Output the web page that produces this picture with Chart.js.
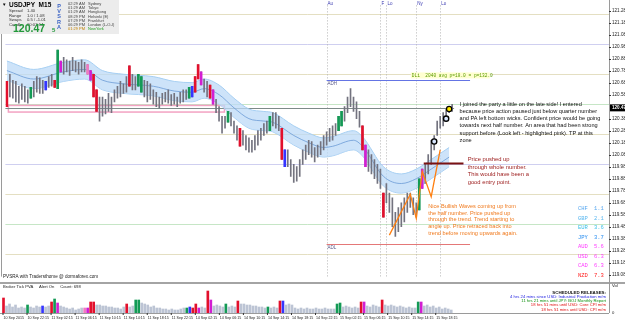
<!DOCTYPE html>
<html>
<head>
<meta charset="utf-8">
<script src="https://cdn.jsdelivr.net/npm/chart.js@4.4.0/dist/chart.umd.min.js"></script>
<style>
html, body { margin: 0; padding: 0; background: #fff; }
#wrap { position: relative; width: 625px; height: 320px; overflow: hidden; }
#price { position: absolute; left: 0; top: 0; }
#vol { position: absolute; left: 0; top: 282px; }
</style>
</head>
<body>
<div id="wrap">
	<canvas id="price" width="625" height="282"></canvas>
	<canvas id="vol" width="625" height="38"></canvas>
</div>
<script>
"use strict";

// ---- data ----
var SLOTS = 202;

var highs = [120.69,120.75,120.70,120.69,120.65,120.67,120.65,120.62,120.64,120.69,
	120.73,120.72,120.70,120.69,120.73,120.75,120.70,120.95,120.86,120.89,
	120.87,120.86,120.89,120.86,120.85,120.87,120.85,120.83,120.78,120.75,
	120.62,120.56,120.56,120.54,120.59,120.56,120.62,120.65,120.69,120.67,
	120.73,120.82,120.75,120.73,120.75,120.73,120.70,120.69,120.67,120.62,
	120.60,120.56,120.59,120.60,120.62,120.58,120.59,120.56,120.60,120.62,
	120.62,120.64,120.65,120.73,120.83,120.77,120.71,120.69,120.66,120.62,
	120.54,120.48,120.40,120.40,120.44,120.43,120.36,120.32,120.30,120.28,
	120.24,120.22,120.20,120.24,120.28,120.30,120.34,120.36,120.40,120.43,
	120.43,120.40,120.30,120.12,120.12,120.04,120.00,119.98,120.04,120.12,
	120.16,120.20,120.19,120.14,120.16,120.19,120.24,120.27,120.30,120.32,
	120.34,120.40,120.44,120.48,120.56,120.63,120.56,120.52,120.44,120.32,
	120.16,120.12,120.08,120.04,120.00,119.96,119.76,119.84,119.76,119.72,
	119.60,119.64,119.68,119.72,119.76,119.76,119.72,119.68,119.88,119.96,
	120.00,120.08,120.20,120.24,120.36,120.40,120.43,120.46,120.48,120.50];

var lows = [120.48,120.56,120.55,120.52,120.51,120.54,120.52,120.51,120.55,120.56,
	120.60,120.59,120.59,120.62,120.64,120.65,120.64,120.63,120.77,120.75,
	120.77,120.74,120.78,120.77,120.75,120.77,120.77,120.75,120.70,120.56,
	120.44,120.36,120.40,120.42,120.44,120.43,120.52,120.55,120.56,120.59,
	120.60,120.65,120.62,120.62,120.65,120.60,120.56,120.52,120.54,120.50,
	120.48,120.47,120.50,120.52,120.51,120.49,120.50,120.48,120.51,120.52,
	120.54,120.55,120.56,120.60,120.71,120.66,120.60,120.56,120.55,120.50,
	120.43,120.36,120.26,120.30,120.35,120.32,120.26,120.20,120.15,120.16,
	120.12,120.10,120.10,120.12,120.16,120.20,120.24,120.26,120.28,120.32,
	120.30,120.28,120.04,119.98,119.98,119.90,119.85,119.86,119.90,120.00,
	120.04,120.08,120.06,120.02,120.06,120.08,120.12,120.16,120.19,120.20,
	120.24,120.28,120.32,120.36,120.43,120.48,120.44,120.38,120.31,120.12,
	119.98,119.94,119.92,119.88,119.84,119.80,119.56,119.68,119.60,119.48,
	119.40,119.44,119.48,119.52,119.60,119.64,119.58,119.56,119.62,119.80,
	119.84,119.92,120.00,120.12,120.24,120.30,120.32,120.38,120.43,120.44];

var volumes = [750,350,450,300,400,250,300,250,400,300,
	250,350,300,350,300,350,550,700,500,350,
	300,250,200,250,150,200,250,250,250,550,
	550,400,400,350,350,300,300,250,250,200,
	300,450,300,350,650,650,500,450,400,300,
	350,250,250,200,200,150,200,150,150,200,
	250,250,300,250,450,250,300,250,1100,650,
	350,400,350,300,450,300,350,300,600,450,
	450,400,400,350,350,300,300,250,300,250,
	300,250,600,600,400,450,400,250,200,250,
	200,250,200,200,250,200,200,250,200,200,
	200,450,500,300,350,300,250,300,250,550,
	550,350,300,400,350,300,650,400,350,400,
	350,300,350,300,250,300,250,250,550,550,
	350,400,300,350,250,300,200,250,200,150];

var redBars = [0,16,29,30,41,63,64,68,78,92,119,126];
var greenBars = [8,17,44,45,61,74,88,111,112,138];
var blueBars = [13,62,93];
var magentaBars = [18,28,65,69,120,139];
var pinkBars = [27];

var emaIdx = [0,9,19,26,32,39,49,56,62,66,71,76,81,86,89,96,101,106,109,116,119,126,132,137,142,148];
var emaMid = [120.78,120.71,120.77,120.79,120.70,120.67,120.65,120.61,120.60,120.63,120.58,120.47,120.38,
	120.36,120.35,120.24,120.18,120.14,120.15,120.20,120.15,119.90,119.84,119.88,119.96,120.06];
var emaUpper = [120.86,120.79,120.85,120.87,120.78,120.75,120.73,120.69,120.68,120.71,120.66,120.55,120.46,
	120.44,120.43,120.32,120.26,120.22,120.23,120.28,120.23,119.98,119.92,119.96,120.04,120.14];
var emaLower = [120.70,120.63,120.69,120.71,120.62,120.59,120.57,120.53,120.52,120.55,120.50,120.39,120.30,
	120.28,120.27,120.16,120.10,120.06,120.07,120.12,120.07,119.82,119.76,119.80,119.88,119.98];

var waveIdx = [128,135,137,139,142,145];
var wavePrice = [119.41,119.75,119.55,119.94,119.73,120.12];
var entryIdx = [143,147];
var entryPrice = [120.19,120.38];
var lastIdx = [148];
var lastPrice = [120.46];

var wholeLevels = [121.00, 120.00];
var halfLevels = [120.50, 119.50];
var quarterLevels = [121.25, 120.75, 120.25, 119.75, 119.25];
var bidPrice = 120.47;
var zoneIdx = [0.5, 72.8];
var zonePrice = [120.435, 120.49];
var adIdx = [107, 155];
var adHigh = 120.70;
var adLow = 119.34;
var breakIdx = [139.5, 152.8];
var breakPrice = 120.01;

var sessionIdx = [107, 125, 127, 137, 145];
var sessionNames = ["Au", "F", "Lo", "Ny", "Lo"];

var priceTicks = [119.08,119.18,119.28,119.38,119.48,119.58,119.68,119.78,119.88,119.98,
	120.08,120.18,120.28,120.38,120.48,120.58,120.68,120.78,120.88,120.98,121.08,121.18,121.28];
var timeLabels = ["10 Sep 2015","10 Sep 22:15","11 Sep 02:15","11 Sep 06:15","11 Sep 10:15",
	"11 Sep 14:15","11 Sep 18:15","11 Sep 22:15","14 Sep 02:15","14 Sep 06:15","14 Sep 10:15",
	"14 Sep 14:15","14 Sep 18:15","14 Sep 22:15","15 Sep 02:15","15 Sep 06:15","15 Sep 10:15",
	"15 Sep 14:15","15 Sep 18:15"];
var LABEL_STEP = 8;

var currencies = ["CHF","GBP","EUR","JPY","AUD","USD","CAD","NZD"];
var strengths = [1.1, 2.1, 3.6, 3.7, 5.6, 6.3, 6.3, 7.3];
var strengthColors = ["#58a8f0","#5cb8f0","#3cc0e8","#2a8ef0","#ff3cff","#ff3cff","#ff3cff","#ff2020"];

var noteMain = ["I joined the party a little on the late side! I entered",
	"because price action paused just below quarter number",
	"and PA left bottom wicks. Confident price would be going",
	"towards next half number. An area that had been strong",
	"support before (Look left - highlighted pink). TP at this",
	"zone"];
var noteRed = ["Price pushed up", "through whole number.", "This would have been a", "good entry point."];
var noteOrange = ["Nice Bullish Waves coming up from", "the half number. Price pushed up",
	"through the trend. Trend starting to", "angle up. Price retraced back into",
	"trend before moving upwards again."];

var releases = ["4 hrs 24 mins since USD: Industrial Production m/m",
	"11 hrs 21 mins until JPY: BOJ Monthly Report",
	"18 hrs 51 mins until USD: Core CPI m/m",
	"18 hrs 51 mins until USD: CPI m/m"];
var releaseColors = ["#2020e0", "#109010", "#e01010", "#e01010"];

// ---- helpers ----
var FONT = "'Liberation Sans', Arial, sans-serif";
var MONO = "'Liberation Mono', 'DejaVu Sans Mono', monospace";

function barColor(i) {
	if (redBars.indexOf(i) >= 0) return "#e2102c";
	if (greenBars.indexOf(i) >= 0) return "#139a55";
	if (blueBars.indexOf(i) >= 0) return "#3535ff";
	if (magentaBars.indexOf(i) >= 0) return "#d21ed2";
	if (pinkBars.indexOf(i) >= 0) return "#f07ac0";
	return null;
}

var slotLabels = [];
for (var s = 0; s < SLOTS; s++) slotLabels.push(s);

function pts(idx, vals) {
	return idx.map(function (v, k) { return { x: v, y: vals[k] }; });
}

function txt(ctx, str, x, y, font, color, align) {
	ctx.font = font;
	ctx.fillStyle = color;
	ctx.textAlign = align || "left";
	ctx.textBaseline = "middle";
	ctx.fillText(str, x, y);
}

// ---- price panel overlay ----
var priceOverlay = {
	id: "priceOverlay",
	beforeDatasetsDraw: function (chart) {
		var ctx = chart.ctx, a = chart.chartArea, xs = chart.scales.x, ys = chart.scales.y;
		ctx.save();
		function hline(v, color, w, x0, x1) {
			var py = Math.round(ys.getPixelForValue(v)) + 0.5;
			ctx.strokeStyle = color;
			ctx.lineWidth = w;
			ctx.beginPath(); ctx.moveTo(x0, py); ctx.lineTo(x1, py); ctx.stroke();
		}
		quarterLevels.forEach(function (v) { hline(v, "#e4dfc2", 1, a.left, a.right); });
		halfLevels.forEach(function (v) { hline(v, "#c6e6c6", 1, a.left, a.right); });
		wholeLevels.forEach(function (v) { hline(v, "#cfcff0", 1, a.left, a.right); });

		// session separators
		ctx.setLineDash([1, 2]);
		sessionIdx.forEach(function (i) {
			var px = Math.round(xs.getPixelForValue(i)) + 0.5;
			ctx.strokeStyle = "#b4b4b4"; ctx.lineWidth = 1;
			ctx.beginPath(); ctx.moveTo(px, a.top); ctx.lineTo(px, a.bottom); ctx.stroke();
		});
		ctx.setLineDash([]);

		// highlighted support zone
		var zx0 = xs.getPixelForValue(zoneIdx[0]), zx1 = xs.getPixelForValue(zoneIdx[1]);
		var zy0 = ys.getPixelForValue(zonePrice[1]), zy1 = ys.getPixelForValue(zonePrice[0]);
		ctx.strokeStyle = "#f3a2c2"; ctx.lineWidth = 1.5;
		ctx.strokeRect(zx0, zy0, zx1 - zx0, zy1 - zy0);

		// bid line and daily high / low
		hline(bidPrice, "#7d8a88", 1, a.left, xs.getPixelForValue(149) + 2);
		var ax0 = xs.getPixelForValue(adIdx[0]), ax1 = xs.getPixelForValue(adIdx[1]);
		hline(adHigh, "#6474e4", 1, ax0, ax1);
		hline(adLow, "#e47878", 1, ax0, ax1);
		ctx.restore();
	},
	afterDatasetsDraw: function (chart) {
		var ctx = chart.ctx, a = chart.chartArea, xs = chart.scales.x, ys = chart.scales.y;
		ctx.save();

		// whole-number break marker
		var by = Math.round(ys.getPixelForValue(breakPrice)) + 0.5;
		ctx.strokeStyle = "#7a1212"; ctx.lineWidth = 2;
		ctx.beginPath(); ctx.moveTo(xs.getPixelForValue(breakIdx[0]), by); ctx.lineTo(xs.getPixelForValue(breakIdx[1]), by); ctx.stroke();

		// ADH / ADL tags and ADR text
		var ax0 = xs.getPixelForValue(adIdx[0]);
		txt(ctx, "ADH", ax0 + 1, ys.getPixelForValue(adHigh) + 4, "4.5px " + FONT, "#5a5a8a");
		txt(ctx, "ADL", ax0 + 1, ys.getPixelForValue(adLow) + 4, "4.5px " + FONT, "#5a5a8a");
		var rx = xs.getPixelForValue(135.5), ry = ys.getPixelForValue(120.74);
		ctx.fillStyle = "#ffffd0";
		ctx.fillRect(rx - 1, ry - 3, 79, 6);
		txt(ctx, "DLi  2040 avg p=18.0 = p=132.0", rx, ry, "4.5px " + MONO, "#5a9a00");

		// notes
		var mx = xs.getPixelForValue(151.5), my = ys.getPixelForValue(120.50);
		noteMain.forEach(function (l, k) { txt(ctx, l, mx, my + k * 7.2, "5.6px " + FONT, "#111"); });
		var rnx = xs.getPixelForValue(154.2), rny = ys.getPixelForValue(120.04);
		noteRed.forEach(function (l, k) { txt(ctx, l, rnx, rny + k * 7.6, "5.8px " + FONT, "#9a1818"); });
		var onx = xs.getPixelForValue(141), ony = ys.getPixelForValue(119.65);
		noteOrange.forEach(function (l, k) { txt(ctx, l, onx, ony + k * 6.8, "5.6px " + FONT, "#f07a1e"); });

		// currency strength table
		currencies.forEach(function (c, k) {
			var yy = 209 + k * 9.5;
			txt(ctx, c, 578, yy, "5.5px " + MONO, strengthColors[k]);
			txt(ctx, strengths[k].toFixed(1), 594, yy, "5.5px " + MONO, strengthColors[k]);
		});

		// session names
		sessionIdx.forEach(function (i, k) {
			txt(ctx, sessionNames[k], xs.getPixelForValue(i) + 1, 4, "4.5px " + FONT, "#3a3ab0");
		});

		// footer
		txt(ctx, "PVSRA with Tradersthome @ dormaforex.com", 3, 277, "4.6px " + FONT, "#222");

		// right price axis
		ctx.strokeStyle = "#9a9a9a"; ctx.lineWidth = 1;
		ctx.beginPath(); ctx.moveTo(a.right + 0.5, 0); ctx.lineTo(a.right + 0.5, chart.height); ctx.stroke();
		ctx.beginPath(); ctx.moveTo(1.5, 0); ctx.lineTo(1.5, a.bottom); ctx.stroke();
		var bidY = ys.getPixelForValue(bidPrice);
		priceTicks.forEach(function (v) {
			var py = ys.getPixelForValue(v);
			if (Math.abs(py - bidY) < 5) return;
			ctx.strokeStyle = "#333";
			ctx.beginPath(); ctx.moveTo(a.right, Math.round(py) + 0.5); ctx.lineTo(a.right + 2, Math.round(py) + 0.5); ctx.stroke();
			txt(ctx, v.toFixed(3), a.right + 3, py, "4.6px " + FONT, "#222");
		});
		ctx.fillStyle = "#000";
		ctx.fillRect(a.right + 1, bidY - 3.5, 16, 7);
		txt(ctx, bidPrice.toFixed(3), a.right + 3, bidY, "bold 4.6px " + FONT, "#fff");

		// info panel
		ctx.fillStyle = "#ececec";
		ctx.fillRect(0, 0, 119, 34);
		txt(ctx, "\u25BC", 2, 5, "4.5px " + FONT, "#000");
		txt(ctx, "USDJPY  M15", 9, 5, "bold 6.5px " + FONT, "#000");
		var infoNames = ["Spread", "Range", "Swaps", "Candle"];
		var infoVals = ["1.40", "1.0 / 1.08", "0.5 / -1.01", "00:03:14"];
		infoNames.forEach(function (n, k) {
			txt(ctx, n, 9, 11 + k * 4.5, "4.2px " + FONT, "#333");
			txt(ctx, infoVals[k], 27, 11 + k * 4.5, "4.2px " + FONT, "#333");
		});
		txt(ctx, "120.47", 13, 29, "bold 10.5px " + FONT, "#22983a");
		txt(ctx, "5", 52, 30, "bold 6px " + FONT, "#22983a");
		"PVSRA".split("").forEach(function (ch, k) {
			txt(ctx, ch, 59, 6 + k * 5.4, "bold 5.5px " + FONT, "#3a62c4", "center");
		});
		var times = ["02:29 AM", "01:29 AM", "01:29 AM", "08:29 PM", "07:29 PM", "06:29 PM", "01:29 PM"];
		var cities = ["Sydney", "Tokyo", "Hongkong", "Helsinki (E)", "Frankfurt", "London (L-O-I)", "NewYork"];
		cities.forEach(function (c, k) {
			var yy = 3.5 + k * 4.3;
			var col = k === 6 ? "#20a020" : "#444";
			txt(ctx, times[k], 68, yy, "4px " + FONT, k === 6 ? "#c08000" : "#444");
			txt(ctx, c, 88, yy, "4px " + FONT, col);
		});
		ctx.restore();
	}
};

new Chart(document.getElementById("price"), {
	type: "bar",
	data: {
		labels: slotLabels,
		datasets: [{
			type: "line",
			data: pts(emaIdx, emaUpper),
			borderColor: "#a6cff2", borderWidth: 1,
			backgroundColor: "rgba(188,218,247,0.75)",
			fill: "+1", pointRadius: 0, cubicInterpolationMode: "monotone", order: 6
		}, {
			type: "line",
			data: pts(emaIdx, emaLower),
			borderColor: "#a6cff2", borderWidth: 1,
			fill: false, pointRadius: 0, cubicInterpolationMode: "monotone", order: 6
		}, {
			type: "line",
			data: pts(emaIdx, emaMid),
			borderColor: "#6b9ad6", borderWidth: 0.8,
			fill: false, pointRadius: 0, cubicInterpolationMode: "monotone", order: 5
		}, {
			data: highs.map(function (h, i) { return [lows[i], h]; }),
			backgroundColor: "#73737f",
			barThickness: 1, grouped: false, order: 3
		}, {
			data: highs.map(function (h, i) { return barColor(i) ? [lows[i], h] : null; }),
			backgroundColor: function (c) { return barColor(c.dataIndex) || "rgba(0,0,0,0)"; },
			barThickness: 2, grouped: false, order: 2
		}, {
			type: "line",
			data: pts(waveIdx, wavePrice),
			borderColor: "#ff7f10", borderWidth: 1.3,
			pointRadius: 0, fill: false, order: 1
		}, {
			type: "line",
			data: pts(entryIdx, entryPrice),
			showLine: false,
			pointRadius: 2.6, pointBorderWidth: 1.4,
			pointBorderColor: "#000", pointBackgroundColor: "#d8e6ff", order: 0
		}, {
			type: "line",
			data: pts(lastIdx, lastPrice),
			showLine: false,
			pointRadius: 2.6, pointBorderWidth: 1.2,
			pointBorderColor: "#000", pointBackgroundColor: "#ffe800", order: 0
		}]
	},
	options: {
		responsive: false,
		animation: false,
		layout: { padding: { left: 2, right: 16, top: 1, bottom: 1 } },
		plugins: { legend: { display: false }, tooltip: { enabled: false } },
		scales: {
			x: { display: false, grid: { display: false } },
			y: { display: false, min: 119.065, max: 121.323 }
		}
	},
	plugins: [priceOverlay]
});

// ---- volume panel ----
var volOverlay = {
	id: "volOverlay",
	afterDatasetsDraw: function (chart) {
		var ctx = chart.ctx, a = chart.chartArea, xs = chart.scales.x;
		ctx.save();
		ctx.fillStyle = "#a4a4a4";
		ctx.fillRect(0, 0, 625, 2);
		ctx.strokeStyle = "#9a9a9a"; ctx.lineWidth = 1;
		ctx.beginPath(); ctx.moveTo(a.right + 0.5, 0); ctx.lineTo(a.right + 0.5, a.bottom); ctx.stroke();
		ctx.beginPath(); ctx.moveTo(0, a.bottom + 0.5); ctx.lineTo(a.right, a.bottom + 0.5); ctx.stroke();
		txt(ctx, "Broker Tick PVA     Alert On     Count: 698", 3, 4.5, "4.2px " + FONT, "#222");
		txt(ctx, "Vol", a.right + 3, 4, "4.2px " + FONT, "#222");
		txt(ctx, "0", a.right + 3, a.bottom, "4.2px " + FONT, "#222");
		txt(ctx, "SCHEDULED RELEASES:", 606, 10.3, "bold 4.4px " + FONT, "#111", "right");
		releases.forEach(function (r, k) {
			txt(ctx, r, 606, 14.7 + k * 4.3, "4.2px " + FONT, releaseColors[k], "right");
		});
		timeLabels.forEach(function (l, k) {
			var px = xs.getPixelForValue(k * LABEL_STEP) - 1;
			ctx.strokeStyle = "#333";
			ctx.beginPath(); ctx.moveTo(px + 0.5, a.bottom); ctx.lineTo(px + 0.5, a.bottom + 2); ctx.stroke();
			txt(ctx, l, px + 1, a.bottom + 4.5, "3.6px " + FONT, "#222");
		});
		ctx.restore();
	}
};

new Chart(document.getElementById("vol"), {
	type: "bar",
	data: {
		labels: slotLabels,
		datasets: [{
			data: volumes,
			backgroundColor: function (c) { return barColor(c.dataIndex) || "#bcc4d4"; },
			barThickness: 2
		}]
	},
	options: {
		responsive: false,
		animation: false,
		layout: { padding: { left: 2, right: 16, top: 6, bottom: 7 } },
		plugins: { legend: { display: false }, tooltip: { enabled: false } },
		scales: {
			x: { display: false },
			y: { display: false, min: 0, max: 1250 }
		}
	},
	plugins: [volOverlay]
});
</script>
</body>
</html>
